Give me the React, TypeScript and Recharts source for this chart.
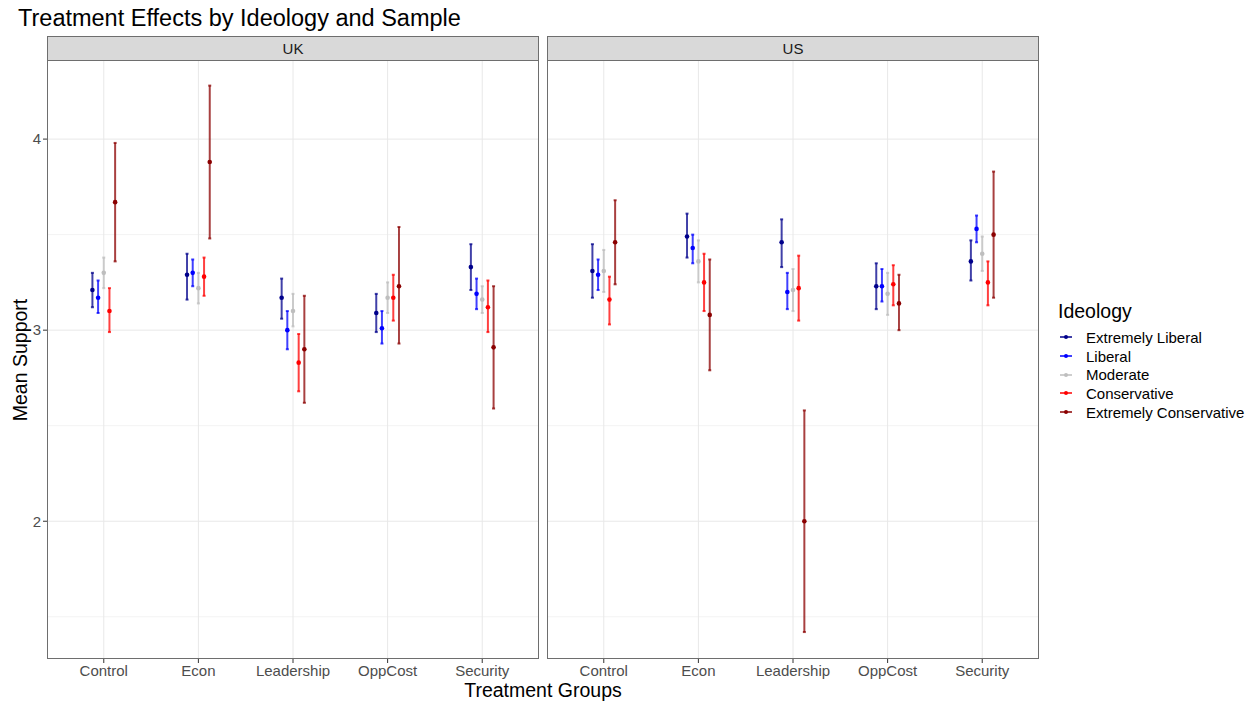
import { CartesianGrid, ErrorBar, Scatter, ScatterChart, XAxis, YAxis } from "recharts";

const CATEGORIES = ["Control", "Econ", "Leadership", "OppCost", "Security"];
const Y_TICKS = [2, 3, 4];
const Y_MINOR = [1.5, 2.5, 3.5];

const IDEOLOGIES = [
  "Extremely Liberal",
  "Liberal",
  "Moderate",
  "Conservative",
  "Extremely Conservative",
];

// [mean, lower, upper] per treatment group
const UK_EXT_LIBERAL = [[3.21, 3.12, 3.3], [3.29, 3.16, 3.4], [3.17, 3.06, 3.27], [3.09, 2.99, 3.19], [3.33, 3.21, 3.45]];
const UK_LIBERAL = [[3.17, 3.09, 3.26], [3.3, 3.23, 3.37], [3.0, 2.9, 3.1], [3.01, 2.93, 3.1], [3.19, 3.11, 3.27]];
const UK_MODERATE = [[3.3, 3.22, 3.38], [3.22, 3.14, 3.3], [3.1, 3.02, 3.19], [3.17, 3.09, 3.25], [3.16, 3.09, 3.23]];
const UK_CONSERVATIVE = [[3.1, 2.99, 3.22], [3.28, 3.18, 3.38], [2.83, 2.68, 2.98], [3.17, 3.05, 3.29], [3.12, 2.99, 3.26]];
const UK_EXT_CONSERVATIVE = [[3.67, 3.36, 3.98], [3.88, 3.48, 4.28], [2.9, 2.62, 3.18], [3.23, 2.93, 3.54], [2.91, 2.59, 3.23]];

const US_EXT_LIBERAL = [[3.31, 3.17, 3.45], [3.49, 3.38, 3.61], [3.46, 3.33, 3.58], [3.23, 3.11, 3.35], [3.36, 3.26, 3.47]];
const US_LIBERAL = [[3.29, 3.21, 3.37], [3.43, 3.35, 3.5], [3.2, 3.11, 3.3], [3.23, 3.15, 3.32], [3.53, 3.46, 3.6]];
const US_MODERATE = [[3.31, 3.2, 3.42], [3.36, 3.25, 3.47], [3.21, 3.1, 3.32], [3.19, 3.08, 3.3], [3.4, 3.31, 3.49]];
const US_CONSERVATIVE = [[3.16, 3.03, 3.28], [3.25, 3.1, 3.4], [3.22, 3.05, 3.39], [3.24, 3.13, 3.34], [3.25, 3.13, 3.36]];
const US_EXT_CONSERVATIVE = [[3.46, 3.24, 3.68], [3.08, 2.79, 3.37], [2.0, 1.42, 2.58], [3.14, 3.0, 3.29], [3.5, 3.17, 3.83]];

const UK_SERIES = [UK_EXT_LIBERAL, UK_LIBERAL, UK_MODERATE, UK_CONSERVATIVE, UK_EXT_CONSERVATIVE];
const US_SERIES = [US_EXT_LIBERAL, US_LIBERAL, US_MODERATE, US_CONSERVATIVE, US_EXT_CONSERVATIVE];

const COLORS = ["#00008B", "#0000FF", "#BEBEBE", "#FF0000", "#8B0000"];
const BAR_COLORS = [
  "rgba(0,0,139,0.75)",
  "rgba(0,0,255,0.75)",
  "rgba(190,190,190,0.75)",
  "rgba(255,0,0,0.75)",
  "rgba(139,0,0,0.75)",
];

const FONT = "'Liberation Sans', Arial, Helvetica, sans-serif";
const DODGE = 0.06;

function toPoints(rows: number[][], k: number) {
  return rows.map(([m, lo, hi], i) => ({
    x: i + 1 + (k - 2) * DODGE,
    y: m,
    err: [m - lo, hi - m],
  }));
}

function Panel({ series, showY, left, width }: { series: number[][][]; showY: boolean; left: number; width: number }) {
  return (
    <div style={{ position: "absolute", left, top: 0 }}>
      <ScatterChart width={width} height={702} margin={{ top: 60, right: 1, bottom: 13, left: 0 }}>
        <CartesianGrid horizontalValues={Y_MINOR} vertical={false} stroke="#F3F3F3" strokeWidth={1} />
        <CartesianGrid horizontalValues={Y_TICKS} verticalValues={[1, 2, 3, 4, 5]} stroke="#E8E8E8" strokeWidth={1} />
        <XAxis
          type="number"
          dataKey="x"
          domain={[0.4, 5.6]}
          ticks={[1, 2, 3, 4, 5]}
          tickFormatter={(v: number) => CATEGORIES[v - 1]}
          allowDataOverflow
          axisLine={false}
          tickLine={{ stroke: "#333333" }}
          tickSize={4}
          height={30}
          tick={{ fontSize: 15, fill: "#4D4D4D", fontFamily: FONT }}
        />
        <YAxis
          type="number"
          dataKey="y"
          domain={[1.279, 4.414]}
          ticks={Y_TICKS}
          allowDataOverflow
          hide={!showY}
          width={47}
          axisLine={false}
          tickLine={{ stroke: "#333333" }}
          tickSize={4}
          tick={{ fontSize: 15, fill: "#4D4D4D", fontFamily: FONT }}
        />
        {series.map((rows, k) => (
          <Scatter
            key={IDEOLOGIES[k]}
            name={IDEOLOGIES[k]}
            data={toPoints(rows, k)}
            isAnimationActive={false}
            shape={(p: any) => <circle cx={p.cx} cy={p.cy} r={2.3} fill={COLORS[k]} />}
          >
            <ErrorBar dataKey="err" direction="y" width={1.5} stroke={BAR_COLORS[k]} strokeWidth={2} isAnimationActive={false} />
          </Scatter>
        ))}
      </ScatterChart>
      <div
        style={{
          position: "absolute",
          left: showY ? 47 : 0,
          top: 60,
          width: 492,
          height: 599,
          border: "1px solid #6E6E6E",
          boxSizing: "border-box",
          pointerEvents: "none",
        }}
      />
    </div>
  );
}

function Strip({ label, left }: { label: string; left: number }) {
  return (
    <div
      style={{
        position: "absolute",
        left,
        top: 36,
        width: 492,
        height: 25,
        background: "#D9D9D9",
        border: "1px solid #6E6E6E",
        boxSizing: "border-box",
        textAlign: "center",
        lineHeight: "23px",
        fontSize: 15,
        color: "#1A1A1A",
        fontFamily: FONT,
      }}
    >
      {label}
    </div>
  );
}

export default function App() {
  return (
    <div style={{ position: "absolute", left: 0, top: 0, width: 1256, height: 702, background: "#fff", fontFamily: FONT, overflow: "hidden" }}>
      <div style={{ position: "absolute", left: 18, top: 4, fontSize: 23.5, lineHeight: "28px", color: "#000" }}>
        Treatment Effects by Ideology and Sample
      </div>
      <Panel series={UK_SERIES} showY left={0} width={540} />
      <Panel series={US_SERIES} showY={false} left={547} width={493} />
      <Strip label="UK" left={47} />
      <Strip label="US" left={547} />
      <div
        style={{
          position: "absolute",
          left: 20,
          top: 360,
          fontSize: 19.5,
          whiteSpace: "nowrap",
          transform: "translate(-50%, -50%) rotate(-90deg)",
          color: "#000",
        }}
      >
        Mean Support
      </div>
      <div style={{ position: "absolute", left: 543, top: 690, fontSize: 19.5, transform: "translate(-50%, -50%)", whiteSpace: "nowrap", color: "#000" }}>
        Treatment Groups
      </div>
      <div style={{ position: "absolute", left: 1058, top: 297, color: "#000" }}>
        <div style={{ fontSize: 19.5, lineHeight: "28px", marginBottom: 3 }}>Ideology</div>
        {IDEOLOGIES.map((name, k) => (
          <div key={name} style={{ display: "flex", alignItems: "center", height: 18.7, fontSize: 15 }}>
            <svg width={24} height={18} style={{ marginRight: 4 }}>
              <line x1={2} x2={14} y1={9} y2={9} stroke={BAR_COLORS[k]} strokeWidth={2} />
              <circle cx={8} cy={9} r={2} fill={COLORS[k]} />
            </svg>
            <span>{name}</span>
          </div>
        ))}
      </div>
    </div>
  );
}
